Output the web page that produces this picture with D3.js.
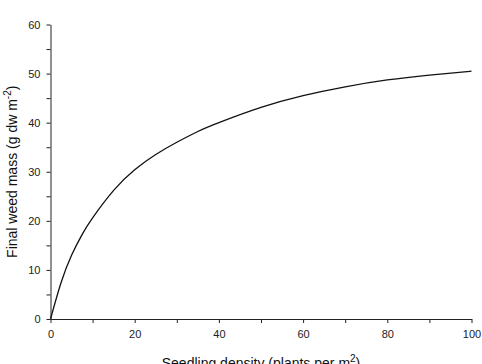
<!DOCTYPE html>
<html>
<meta charset="utf-8">
<style>
body { margin: 0; background: #fff; }
svg { display: block; }
.axis text { font: 11px "Liberation Sans", Arial, sans-serif; fill: #222; }
.axis path, .axis line { stroke: #222; }
.title { font: 14px "Liberation Sans", Arial, sans-serif; fill: #111; }
</style>
<body>
<svg id="chart" width="482" height="364"></svg>
<script src="https://d3js.org/d3.v7.min.js"></script>
<script>
// seedling density (plants per m2) and final weed mass
var density = [0, 2.5, 5, 7.5, 10, 15, 20, 25, 30, 35, 40, 50, 60, 70, 80, 90, 100];
var mass = [0, 7.4, 13.0, 17.2, 20.6, 26.2, 30.4, 33.5, 36.0, 38.2, 40.0, 43.1, 45.5, 47.3, 48.7, 49.7, 50.5];

var xTicks = [0, 20, 40, 60, 80, 100];
var xMinor = [10, 30, 50, 70, 90];
var yTicks = [0, 10, 20, 30, 40, 50, 60];
var yMinor = [5, 15, 25, 35, 45, 55];

var margin = {top: 24.5, right: 10.5, bottom: 45, left: 50.5};
var width = 482 - margin.left - margin.right;
var height = 364 - margin.top - margin.bottom;

var svg = d3.select("#chart");
var g = svg.append("g")
	.attr("transform", "translate(" + margin.left + "," + margin.top + ")");

var x = d3.scaleLinear().domain([0, 100]).range([0, width]);
var y = d3.scaleLinear().domain([0, 60]).range([height, 0]);

// minor ticks first, no labels
g.append("g")
	.attr("class", "axis")
	.attr("transform", "translate(0," + height + ")")
	.call(d3.axisBottom(x).tickValues(xMinor).tickSize(4).tickFormat(""))
	.select(".domain").remove();

g.append("g")
	.attr("class", "axis")
	.call(d3.axisLeft(y).tickValues(yMinor).tickSize(4).tickFormat(""))
	.select(".domain").remove();

g.append("g")
	.attr("class", "axis")
	.attr("transform", "translate(0," + height + ")")
	.call(d3.axisBottom(x).tickValues(xTicks).tickSize(4).tickSizeOuter(0).tickPadding(7));

g.append("g")
	.attr("class", "axis")
	.call(d3.axisLeft(y).tickValues(yTicks).tickSize(4).tickSizeOuter(0).tickPadding(6));

var line = d3.line()
	.x(function(d, i) { return x(density[i]); })
	.y(function(d) { return y(d); })
	.curve(d3.curveNatural);

g.append("path")
	.datum(mass)
	.attr("fill", "none")
	.attr("stroke", "#111")
	.attr("stroke-width", 1.3)
	.attr("d", line);

// axis titles
var xt = g.append("text")
	.attr("class", "title")
	.attr("x", width / 2)
	.attr("y", height + 49)
	.attr("text-anchor", "middle")
	.text("Seedling density (plants per m");
xt.append("tspan").attr("dy", -6).attr("font-size", "10px").text("2");
xt.append("tspan").attr("dy", 6).text(")");

var yt = g.append("text")
	.attr("class", "title")
	.attr("transform", "translate(" + (-34) + "," + (height / 2) + ") rotate(-90)")
	.attr("text-anchor", "middle")
	.text("Final weed mass (g dw m");
yt.append("tspan").attr("dy", -6).attr("font-size", "10px").text("-2");
yt.append("tspan").attr("dy", 6).text(")");
</script>
</body>
</html>
